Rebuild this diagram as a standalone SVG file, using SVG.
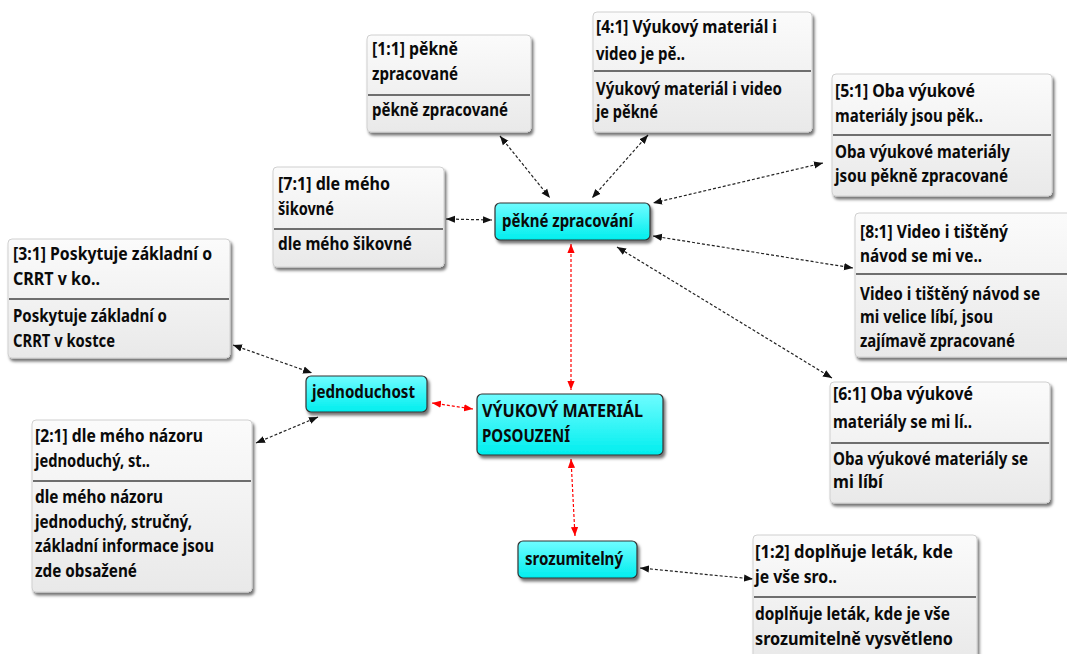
<svg xmlns="http://www.w3.org/2000/svg" width="1067" height="654" viewBox="0 0 1067 654">
<defs>
<linearGradient id="gq" x1="0" y1="0" x2="0" y2="1"><stop offset="0" stop-color="#fbfbfb"/><stop offset="1" stop-color="#e9e9e9"/></linearGradient>
<linearGradient id="gc" x1="0" y1="0" x2="0" y2="1"><stop offset="0" stop-color="#6ffcff"/><stop offset="1" stop-color="#00eeee"/></linearGradient>
<filter id="sh" x="-10%" y="-10%" width="125%" height="130%"><feDropShadow dx="2" dy="3" stdDeviation="1.6" flood-color="#000" flood-opacity="0.55"/></filter>
<marker id="ab" viewBox="0 0 10 10" refX="10" refY="5" markerWidth="9" markerHeight="9" markerUnits="userSpaceOnUse" orient="auto-start-reverse"><path d="M0,1 L10,5 L0,9 Z" fill="#111"/></marker>
<marker id="ar" viewBox="0 0 10 10" refX="10" refY="5" markerWidth="9" markerHeight="9" markerUnits="userSpaceOnUse" orient="auto-start-reverse"><path d="M0,1 L10,5 L0,9 Z" fill="#f00"/></marker>
</defs>
<style>
text{font-family:"Noto Sans","DejaVu Sans",sans-serif;font-weight:bold;font-size:17px;fill:#0a0a0a}
.q{fill:url(#gq);stroke:#d0d0d0;stroke-width:1;filter:url(#sh)}
.c{fill:url(#gc);stroke:#333;stroke-width:1.2;filter:url(#sh)}
.d{stroke:#6e6e6e;stroke-width:2}
.lb{fill:none;stroke:#222;stroke-width:1.2;stroke-dasharray:3 2;marker-start:url(#ab);marker-end:url(#ab)}
.lr{fill:none;stroke:#f00;stroke-width:1.2;stroke-dasharray:3 2;marker-start:url(#ar);marker-end:url(#ar)}
</style>
<rect width="1067" height="654" fill="#fff"/>
<g id="connectors">
<line class="lb" x1="500" y1="136" x2="550" y2="198"/>
<line class="lb" x1="648" y1="135" x2="592" y2="198"/>
<line class="lb" x1="823" y1="163" x2="653" y2="203"/>
<line class="lb" x1="446" y1="219" x2="492" y2="220"/>
<line class="lb" x1="853" y1="268" x2="653" y2="236"/>
<line class="lb" x1="832" y1="378" x2="617" y2="247"/>
<line class="lb" x1="233" y1="345" x2="312" y2="373"/>
<line class="lb" x1="256" y1="443" x2="318" y2="417"/>
<line class="lr" x1="432" y1="403" x2="473" y2="409"/>
<line class="lr" x1="571" y1="244" x2="571" y2="390"/>
<line class="lr" x1="571" y1="459" x2="575" y2="536"/>
<line class="lb" x1="640" y1="568" x2="753" y2="579"/>
</g>
<g id="n11">
<rect class="q" x="367" y="35" width="164" height="97" rx="4"/>
<text x="372" y="55" textLength="86" lengthAdjust="spacingAndGlyphs">[1:1] pěkně</text>
<text x="372" y="80" textLength="86" lengthAdjust="spacingAndGlyphs">zpracované</text>
<line class="d" x1="368" y1="95" x2="530" y2="95"/>
<text x="372" y="116" textLength="136" lengthAdjust="spacingAndGlyphs">pěkně zpracované</text>
</g>
<g id="n41">
<rect class="q" x="593" y="12" width="219" height="120" rx="4"/>
<text x="596" y="33" textLength="181" lengthAdjust="spacingAndGlyphs">[4:1] Výukový materiál i</text>
<text x="596" y="60" textLength="89" lengthAdjust="spacingAndGlyphs">video je pě..</text>
<line class="d" x1="594" y1="71" x2="811" y2="71"/>
<text x="596" y="95" textLength="186" lengthAdjust="spacingAndGlyphs">Výukový materiál i video</text>
<text x="596" y="118" textLength="62" lengthAdjust="spacingAndGlyphs">je pěkné</text>
</g>
<g id="n51">
<rect class="q" x="832" y="74" width="220" height="122" rx="4"/>
<text x="835" y="97" textLength="140" lengthAdjust="spacingAndGlyphs">[5:1] Oba výukové</text>
<text x="835" y="122" textLength="148" lengthAdjust="spacingAndGlyphs">materiály jsou pěk..</text>
<line class="d" x1="833" y1="135" x2="1051" y2="135"/>
<text x="835" y="158" textLength="175" lengthAdjust="spacingAndGlyphs">Oba výukové materiály</text>
<text x="835" y="182" textLength="173" lengthAdjust="spacingAndGlyphs">jsou pěkně zpracované</text>
</g>
<g id="n71">
<rect class="q" x="273" y="167" width="171" height="100" rx="4"/>
<text x="278" y="190" textLength="112" lengthAdjust="spacingAndGlyphs">[7:1] dle mého</text>
<text x="278" y="215" textLength="56" lengthAdjust="spacingAndGlyphs">šikovné</text>
<line class="d" x1="274" y1="229" x2="443" y2="229"/>
<text x="278" y="250" textLength="134" lengthAdjust="spacingAndGlyphs">dle mého šikovné</text>
</g>
<g id="n81">
<rect class="q" x="855" y="213" width="220" height="144" rx="4"/>
<text x="860" y="238" textLength="148" lengthAdjust="spacingAndGlyphs">[8:1] Video i tištěný</text>
<text x="860" y="262" textLength="122" lengthAdjust="spacingAndGlyphs">návod se mi ve..</text>
<line class="d" x1="856" y1="274" x2="1067" y2="274"/>
<text x="860" y="300" textLength="180" lengthAdjust="spacingAndGlyphs">Video i tištěný návod se</text>
<text x="860" y="323" textLength="133" lengthAdjust="spacingAndGlyphs">mi velice líbí, jsou</text>
<text x="860" y="347" textLength="155" lengthAdjust="spacingAndGlyphs">zajímavě zpracované</text>
</g>
<g id="n31">
<rect class="q" x="8" y="239" width="222" height="119" rx="4"/>
<text x="13" y="260" textLength="199" lengthAdjust="spacingAndGlyphs">[3:1] Poskytuje základní o</text>
<text x="13" y="285" textLength="87" lengthAdjust="spacingAndGlyphs">CRRT v ko..</text>
<line class="d" x1="9" y1="299" x2="229" y2="299"/>
<text x="13" y="322" textLength="154" lengthAdjust="spacingAndGlyphs">Poskytuje základní o</text>
<text x="13" y="347" textLength="102" lengthAdjust="spacingAndGlyphs">CRRT v kostce</text>
</g>
<g id="n61">
<rect class="q" x="830" y="382" width="220" height="121" rx="4"/>
<text x="833" y="400" textLength="140" lengthAdjust="spacingAndGlyphs">[6:1] Oba výukové</text>
<text x="833" y="428" textLength="139" lengthAdjust="spacingAndGlyphs">materiály se mi lí..</text>
<line class="d" x1="831" y1="443" x2="1049" y2="443"/>
<text x="833" y="465" textLength="195" lengthAdjust="spacingAndGlyphs">Oba výukové materiály se</text>
<text x="833" y="488" textLength="50" lengthAdjust="spacingAndGlyphs">mi líbí</text>
</g>
<g id="n21">
<rect class="q" x="32" y="420" width="220" height="172" rx="4"/>
<text x="35" y="442" textLength="168" lengthAdjust="spacingAndGlyphs">[2:1] dle mého názoru</text>
<text x="35" y="467" textLength="115" lengthAdjust="spacingAndGlyphs">jednoduchý, st..</text>
<line class="d" x1="33" y1="481" x2="251" y2="481"/>
<text x="35" y="503" textLength="128" lengthAdjust="spacingAndGlyphs">dle mého názoru</text>
<text x="35" y="528" textLength="157" lengthAdjust="spacingAndGlyphs">jednoduchý, stručný,</text>
<text x="35" y="552" textLength="179" lengthAdjust="spacingAndGlyphs">základní informace jsou</text>
<text x="35" y="577" textLength="102" lengthAdjust="spacingAndGlyphs">zde obsažené</text>
</g>
<g id="n12">
<rect class="q" x="753" y="535" width="224" height="125" rx="4"/>
<text x="755" y="558" textLength="198" lengthAdjust="spacingAndGlyphs">[1:2] doplňuje leták, kde</text>
<text x="755" y="583" textLength="82" lengthAdjust="spacingAndGlyphs">je vše sro..</text>
<line class="d" x1="754" y1="597" x2="976" y2="597"/>
<text x="755" y="620" textLength="195" lengthAdjust="spacingAndGlyphs">doplňuje leták, kde je vše</text>
<text x="755" y="645" textLength="198" lengthAdjust="spacingAndGlyphs">srozumitelně vysvětleno</text>
</g>
<g id="pekne">
<rect class="c" x="495" y="203" width="155" height="37" rx="5"/>
<text x="502" y="227" textLength="131" lengthAdjust="spacingAndGlyphs">pěkné zpracování</text>
</g>
<g id="jednoduchost">
<rect class="c" x="306" y="376" width="121" height="36" rx="5"/>
<text x="312" y="398" textLength="103" lengthAdjust="spacingAndGlyphs">jednoduchost</text>
</g>
<g id="vyukovy">
<rect class="c" x="477" y="394" width="186" height="61" rx="5"/>
<text x="482" y="417" textLength="161" lengthAdjust="spacingAndGlyphs">VÝUKOVÝ MATERIÁL</text>
<text x="482" y="442" textLength="88" lengthAdjust="spacingAndGlyphs">POSOUZENÍ</text>
</g>
<g id="srozumitelny">
<rect class="c" x="518" y="541" width="119" height="37" rx="5"/>
<text x="525" y="565" textLength="98" lengthAdjust="spacingAndGlyphs">srozumitelný</text>
</g>
</svg>
